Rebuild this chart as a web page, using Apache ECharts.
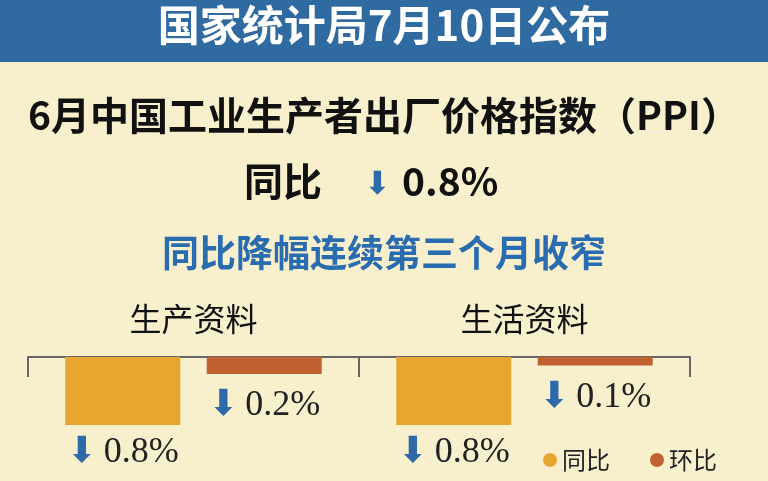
<!DOCTYPE html><html><head><meta charset="utf-8"><script src="https://cdn.jsdelivr.net/npm/echarts@6/dist/echarts.min.js"></script>
<style>html,body{margin:0;padding:0;background:#f8efcc}#c{width:768px;height:481px}</style></head><body><div id="c"></div><script>
const categories=['生产资料','生活资料'];
const yoy=[-0.8,-0.8];
const mom=[-0.2,-0.1];
const chart=echarts.init(document.getElementById('c'));
const arrowLbl=(dist)=>({show:true,position:'bottom',distance:dist,formatter:p=>'{a|⬇}  {b|'+Math.abs(p.value)+'%}',
 rich:{a:{color:'#2f6aa8',fontSize:36,fontFamily:'DejaVu Sans'},b:{color:'#222',fontSize:36,fontFamily:'Liberation Serif'}}});
chart.setOption({
 backgroundColor:'#f8efcc',
 graphic:[
  {type:'rect',shape:{x:0,y:0,width:768,height:62},style:{fill:'#2f6aa0'}},
  {type:'text',left:'center',top:4,style:{text:'国家统计局7月10日公布',fill:'#fff',font:'bold 42px "Noto Sans CJK SC"'}},
  {type:'text',left:'center',top:96,style:{text:'6月中国工业生产者出厂价格指数（PPI）',fill:'#111',font:'bold 39px "Noto Sans CJK SC"'}},
  {type:'text',left:244,top:162,style:{text:'同比',fill:'#111',font:'bold 39px "Noto Sans CJK SC"'}},
  {type:'text',left:364,top:170,style:{text:'⬇',fill:'#2f6aa8',font:'32px "DejaVu Sans"'}},
  {type:'text',left:402,top:162,style:{text:'0.8%',fill:'#111',font:'bold 39px "Noto Sans CJK SC"'}},
  {type:'text',left:'center',top:234,style:{text:'同比降幅连续第三个月收窄',fill:'#2a6cb0',font:'bold 37px "Noto Sans CJK SC"'}}
 ],
 legend:{left:538,top:443,itemWidth:14,itemHeight:14,itemGap:40,icon:'circle',textStyle:{fontSize:24,color:'#222',fontFamily:'Noto Sans CJK SC'},data:['同比','环比']},
 grid:{left:28,right:78,top:357,height:68},
 xAxis:{type:'category',position:'top',data:categories,axisLine:{lineStyle:{color:'#666',width:2}},axisTick:{show:true,length:-20,lineStyle:{color:'#666',width:2}},
  axisLabel:{margin:22,fontSize:32,color:'#111',fontFamily:'Noto Sans CJK SC'}},
 yAxis:{type:'value',min:-0.8,max:0,show:false,splitLine:{show:false}},
 series:[
  {name:'同比',type:'bar',data:yoy,barWidth:115,barGap:'23%',itemStyle:{color:'#e8a631'},label:arrowLbl(10)},
  {name:'环比',type:'bar',data:mom,barWidth:115,itemStyle:{color:'#c0622f'},label:arrowLbl(14)}
 ]
});
</script></body></html>
